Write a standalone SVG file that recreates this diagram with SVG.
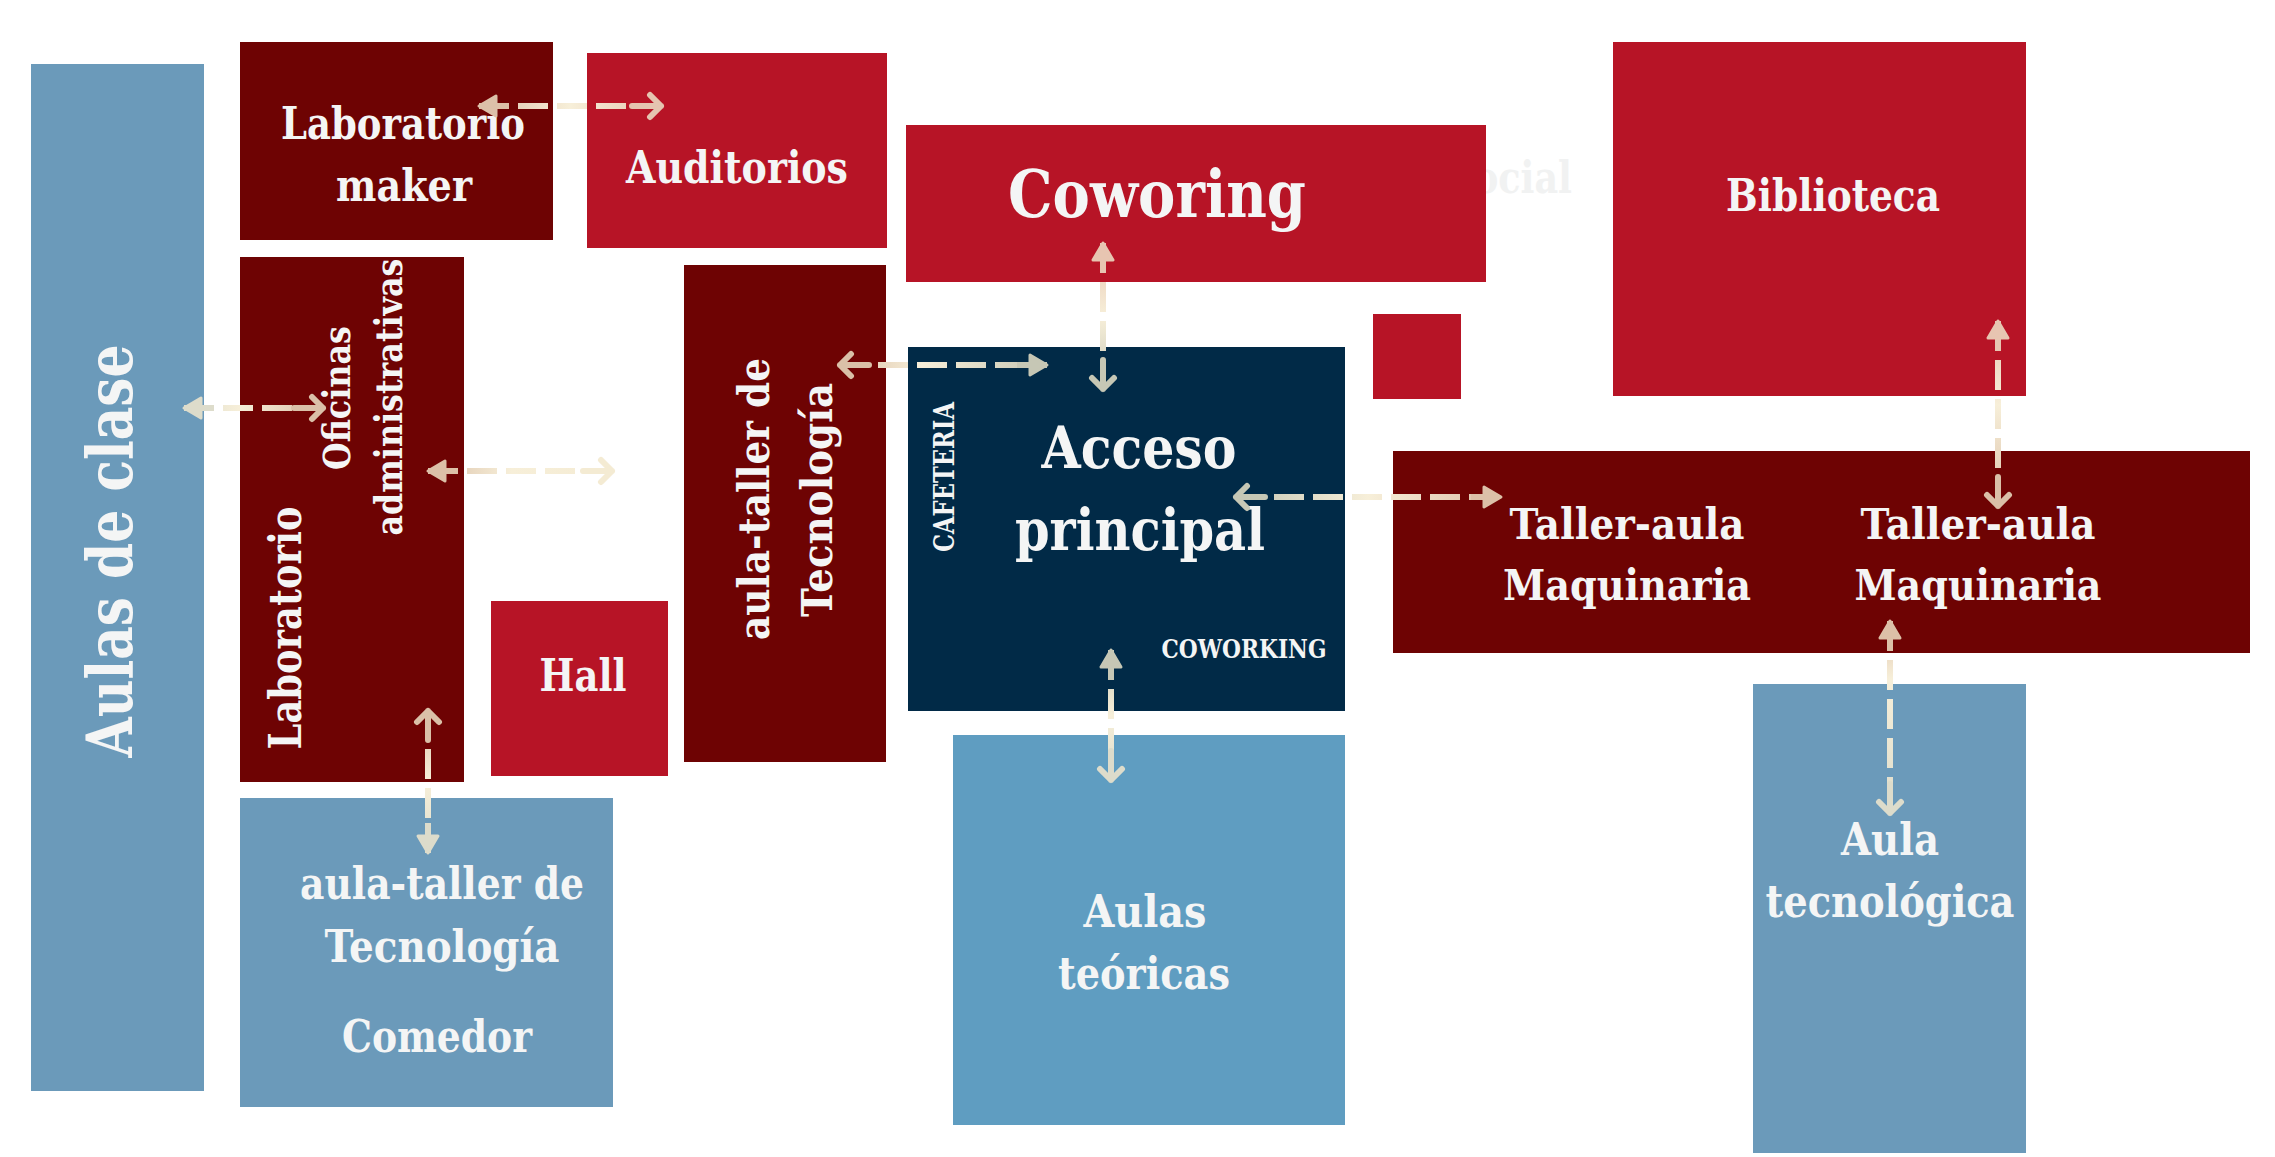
<svg xmlns="http://www.w3.org/2000/svg" width="2275" height="1157" viewBox="0 0 2275 1157">
<style>
.blue{fill:#6b9aba}.blue2{fill:#5f9dc1}.dred{fill:#6e0303}.red{fill:#b71426}.navy{fill:#012a47}
.t{font-family:"DejaVu Serif","Liberation Serif",serif;font-weight:bold;fill:#f4f5f5;text-anchor:middle}
.ghost{font-family:"DejaVu Serif","Liberation Serif",serif;font-weight:bold;fill:#f1f2f2}
.c{fill:none;stroke-width:6;stroke-dasharray:30 9}
</style>
<defs>
<marker id="triTan" markerUnits="userSpaceOnUse" markerWidth="44" markerHeight="30" viewBox="-38 -15 44 30" refX="0" refY="0" orient="auto-start-reverse"><path d="M-30,0H-10" stroke="#dcc0a8" stroke-width="6"/><path d="M-17,-10L0,0L-17,10Z" fill="#dcc0a8" stroke="#dcc0a8" stroke-width="3" stroke-linejoin="round"/></marker>
<marker id="triPink" markerUnits="userSpaceOnUse" markerWidth="44" markerHeight="30" viewBox="-38 -15 44 30" refX="0" refY="0" orient="auto-start-reverse"><path d="M-30,0H-10" stroke="#e7c5b1" stroke-width="6"/><path d="M-17,-10L0,0L-17,10Z" fill="#e7c5b1" stroke="#e7c5b1" stroke-width="3" stroke-linejoin="round"/></marker>
<marker id="triGrey" markerUnits="userSpaceOnUse" markerWidth="44" markerHeight="30" viewBox="-38 -15 44 30" refX="0" refY="0" orient="auto-start-reverse"><path d="M-30,0H-10" stroke="#c6c7b5" stroke-width="6"/><path d="M-17,-10L0,0L-17,10Z" fill="#c6c7b5" stroke="#c6c7b5" stroke-width="3" stroke-linejoin="round"/></marker>
<marker id="triLight" markerUnits="userSpaceOnUse" markerWidth="44" markerHeight="30" viewBox="-38 -15 44 30" refX="0" refY="0" orient="auto-start-reverse"><path d="M-30,0H-10" stroke="#dddccb" stroke-width="6"/><path d="M-17,-10L0,0L-17,10Z" fill="#dddccb" stroke="#dddccb" stroke-width="3" stroke-linejoin="round"/></marker>
<marker id="chevTan" markerUnits="userSpaceOnUse" markerWidth="44" markerHeight="30" viewBox="-38 -15 44 30" refX="0" refY="0" orient="auto-start-reverse"><path d="M-30,0H-1M-12,-11L-1,0L-12,11" fill="none" stroke="#dac0a8" stroke-width="6" stroke-linecap="round" stroke-linejoin="round"/></marker>
<marker id="chevPink" markerUnits="userSpaceOnUse" markerWidth="44" markerHeight="30" viewBox="-38 -15 44 30" refX="0" refY="0" orient="auto-start-reverse"><path d="M-30,0H-1M-12,-11L-1,0L-12,11" fill="none" stroke="#e5c4b0" stroke-width="6" stroke-linecap="round" stroke-linejoin="round"/></marker>
<marker id="chevGrey" markerUnits="userSpaceOnUse" markerWidth="44" markerHeight="30" viewBox="-38 -15 44 30" refX="0" refY="0" orient="auto-start-reverse"><path d="M-30,0H-1M-12,-11L-1,0L-12,11" fill="none" stroke="#c6c7b5" stroke-width="6" stroke-linecap="round" stroke-linejoin="round"/></marker>
<marker id="chevLight" markerUnits="userSpaceOnUse" markerWidth="44" markerHeight="30" viewBox="-38 -15 44 30" refX="0" refY="0" orient="auto-start-reverse"><path d="M-30,0H-1M-12,-11L-1,0L-12,11" fill="none" stroke="#dddccb" stroke-width="6" stroke-linecap="round" stroke-linejoin="round"/></marker>
<marker id="chevBeige" markerUnits="userSpaceOnUse" markerWidth="44" markerHeight="30" viewBox="-38 -15 44 30" refX="0" refY="0" orient="auto-start-reverse"><path d="M-30,0H-1M-12,-11L-1,0L-12,11" fill="none" stroke="#f4ebd3" stroke-width="6" stroke-linecap="round" stroke-linejoin="round"/></marker>
<linearGradient id="g1" gradientUnits="userSpaceOnUse" x1="479" y1="0" x2="662" y2="0"><stop offset="0" stop-color="#dcc0a8"/><stop offset="0.5" stop-color="#f7efd9"/><stop offset="1" stop-color="#e5c4b0"/></linearGradient>
<linearGradient id="g2" gradientUnits="userSpaceOnUse" x1="184" y1="0" x2="324" y2="0"><stop offset="0" stop-color="#dddccb"/><stop offset="0.4" stop-color="#f7efd9"/><stop offset="1" stop-color="#dac0a8"/></linearGradient>
<linearGradient id="g3" gradientUnits="userSpaceOnUse" x1="428" y1="0" x2="613" y2="0"><stop offset="0" stop-color="#dac0a8"/><stop offset="0.45" stop-color="#f7efd9"/><stop offset="1" stop-color="#f4ebd3"/></linearGradient>
<linearGradient id="g4" gradientUnits="userSpaceOnUse" x1="839" y1="0" x2="1047" y2="0"><stop offset="0" stop-color="#dac0a8"/><stop offset="0.4" stop-color="#f7efd9"/><stop offset="1" stop-color="#c6c7b5"/></linearGradient>
<linearGradient id="g5" gradientUnits="userSpaceOnUse" x1="0" y1="243" x2="0" y2="390"><stop offset="0" stop-color="#e7c5b1"/><stop offset="0.5" stop-color="#f7efd9"/><stop offset="1" stop-color="#c6c7b5"/></linearGradient>
<linearGradient id="g6" gradientUnits="userSpaceOnUse" x1="1235" y1="0" x2="1501" y2="0"><stop offset="0" stop-color="#c6c7b5"/><stop offset="0.5" stop-color="#f7efd9"/><stop offset="1" stop-color="#dcc0a8"/></linearGradient>
<linearGradient id="g7" gradientUnits="userSpaceOnUse" x1="0" y1="650" x2="0" y2="781"><stop offset="0" stop-color="#c6c7b5"/><stop offset="0.5" stop-color="#f7efd9"/><stop offset="1" stop-color="#dddccb"/></linearGradient>
<linearGradient id="g8" gradientUnits="userSpaceOnUse" x1="0" y1="321" x2="0" y2="507"><stop offset="0" stop-color="#e7c5b1"/><stop offset="0.45" stop-color="#f7efd9"/><stop offset="1" stop-color="#dac0a8"/></linearGradient>
<linearGradient id="g9" gradientUnits="userSpaceOnUse" x1="0" y1="621" x2="0" y2="814"><stop offset="0" stop-color="#dcc0a8"/><stop offset="0.3" stop-color="#f7efd9"/><stop offset="1" stop-color="#dddccb"/></linearGradient>
<linearGradient id="g10" gradientUnits="userSpaceOnUse" x1="0" y1="710" x2="0" y2="853"><stop offset="0" stop-color="#dac0a8"/><stop offset="0.5" stop-color="#f7efd9"/><stop offset="1" stop-color="#dddccb"/></linearGradient>
</defs>
<rect width="2275" height="1157" fill="#ffffff"/>
<text class="ghost" x="1474" y="193" font-size="45" textLength="98" lengthAdjust="spacingAndGlyphs">ocial</text>
<g id="aulas-de-clase"><rect class="blue" x="31" y="64" width="173" height="1027"/><text class="t" transform="translate(132,551) rotate(-90)" font-size="63" textLength="413" lengthAdjust="spacingAndGlyphs">Aulas de clase</text></g>
<g id="laboratorio-maker"><rect class="dred" x="240" y="42" width="313" height="198"/><text class="t" x="403" y="139" font-size="45" textLength="244" lengthAdjust="spacingAndGlyphs">Laboratorio</text><text class="t" x="404" y="201" font-size="45" textLength="136" lengthAdjust="spacingAndGlyphs">maker</text></g>
<g id="auditorios"><rect class="red" x="587" y="53" width="300" height="195"/><text class="t" x="737" y="183" font-size="45" textLength="222" lengthAdjust="spacingAndGlyphs">Auditorios</text></g>
<g id="coworing"><rect class="red" x="906" y="125" width="580" height="157"/><text class="t" x="1157" y="217" font-size="66" textLength="298" lengthAdjust="spacingAndGlyphs">Coworing</text></g>
<g id="biblioteca"><rect class="red" x="1613" y="42" width="413" height="354"/><text class="t" x="1833" y="211" font-size="45" textLength="214" lengthAdjust="spacingAndGlyphs">Biblioteca</text></g>
<g id="bloque-rojo"><rect class="red" x="1373" y="314" width="88" height="85"/></g>
<g id="oficinas-laboratorio"><rect class="dred" x="240" y="257" width="224" height="525"/><text class="t" transform="translate(301,628) rotate(-90)" font-size="44" textLength="243" lengthAdjust="spacingAndGlyphs">Laboratorio</text><text class="t" transform="translate(350,398) rotate(-90)" font-size="38" textLength="144" lengthAdjust="spacingAndGlyphs">Oficinas</text><text class="t" transform="translate(402,397) rotate(-90)" font-size="38" textLength="277" lengthAdjust="spacingAndGlyphs">administrativas</text></g>
<g id="aula-taller-vertical"><rect class="dred" x="684" y="265" width="202" height="497"/><text class="t" transform="translate(769,499) rotate(-90)" font-size="42" textLength="282" lengthAdjust="spacingAndGlyphs">aula-taller de</text><text class="t" transform="translate(832,500) rotate(-90)" font-size="42" textLength="234" lengthAdjust="spacingAndGlyphs">Tecnología</text></g>
<g id="hall"><rect class="red" x="491" y="601" width="177" height="175"/><text class="t" x="583" y="691" font-size="45" textLength="87" lengthAdjust="spacingAndGlyphs">Hall</text></g>
<g id="acceso-principal"><rect class="navy" x="908" y="347" width="437" height="364"/><text class="t" x="1139" y="468" font-size="57" textLength="195" lengthAdjust="spacingAndGlyphs">Acceso</text><text class="t" x="1140" y="550" font-size="57" textLength="250" lengthAdjust="spacingAndGlyphs">principal</text><text class="t" transform="translate(954,477) rotate(-90)" font-size="27" textLength="150" lengthAdjust="spacingAndGlyphs">CAFETERIA</text><text class="t" x="1244" y="658" font-size="26" textLength="165" lengthAdjust="spacingAndGlyphs">COWORKING</text></g>
<g id="taller-aula"><rect class="dred" x="1393" y="451" width="857" height="202"/><text class="t" x="1627" y="539" font-size="43" textLength="235" lengthAdjust="spacingAndGlyphs">Taller-aula</text><text class="t" x="1627" y="600" font-size="43" textLength="248" lengthAdjust="spacingAndGlyphs">Maquinaria</text><text class="t" x="1978" y="539" font-size="43" textLength="235" lengthAdjust="spacingAndGlyphs">Taller-aula</text><text class="t" x="1978" y="600" font-size="43" textLength="247" lengthAdjust="spacingAndGlyphs">Maquinaria</text></g>
<g id="comedor"><rect class="blue" x="240" y="798" width="373" height="309"/><text class="t" x="442" y="899" font-size="44" textLength="284" lengthAdjust="spacingAndGlyphs">aula-taller de</text><text class="t" x="442" y="962" font-size="44" textLength="235" lengthAdjust="spacingAndGlyphs">Tecnología</text><text class="t" x="437" y="1052" font-size="44" textLength="190" lengthAdjust="spacingAndGlyphs">Comedor</text></g>
<g id="aulas-teoricas"><rect class="blue2" x="953" y="735" width="392" height="390"/><text class="t" x="1145" y="927" font-size="45" textLength="123" lengthAdjust="spacingAndGlyphs">Aulas</text><text class="t" x="1144" y="989" font-size="45" textLength="172" lengthAdjust="spacingAndGlyphs">teóricas</text></g>
<g id="aula-tecnologica"><rect class="blue" x="1753" y="684" width="273" height="469"/><text class="t" x="1890" y="855" font-size="45" textLength="98" lengthAdjust="spacingAndGlyphs">Aula</text><text class="t" x="1890" y="917" font-size="45" textLength="249" lengthAdjust="spacingAndGlyphs">tecnológica</text></g>
<g id="connectors">
<line class="c" x1="479" y1="106" x2="662" y2="106" stroke="url(#g1)" marker-start="url(#triTan)" marker-end="url(#chevPink)"/>
<line class="c" x1="184" y1="408" x2="324" y2="408" stroke="url(#g2)" marker-start="url(#triLight)" marker-end="url(#chevTan)"/>
<line class="c" x1="428" y1="471" x2="613" y2="471" stroke="url(#g3)" marker-start="url(#triTan)" marker-end="url(#chevBeige)"/>
<line class="c" x1="839" y1="365" x2="1047" y2="365" stroke="url(#g4)" marker-start="url(#chevTan)" marker-end="url(#triGrey)"/>
<line class="c" x1="1103" y1="243" x2="1103" y2="390" stroke="url(#g5)" marker-start="url(#triPink)" marker-end="url(#chevGrey)"/>
<line class="c" x1="1235" y1="497" x2="1501" y2="497" stroke="url(#g6)" marker-start="url(#chevGrey)" marker-end="url(#triTan)"/>
<line class="c" x1="1111" y1="650" x2="1111" y2="781" stroke="url(#g7)" marker-start="url(#triGrey)" marker-end="url(#chevLight)"/>
<line class="c" x1="1998" y1="321" x2="1998" y2="507" stroke="url(#g8)" marker-start="url(#triPink)" marker-end="url(#chevTan)"/>
<line class="c" x1="1890" y1="621" x2="1890" y2="814" stroke="url(#g9)" marker-start="url(#triTan)" marker-end="url(#chevLight)"/>
<line class="c" x1="428" y1="710" x2="428" y2="853" stroke="url(#g10)" marker-start="url(#chevTan)" marker-end="url(#triLight)"/>
</g>
</svg>
